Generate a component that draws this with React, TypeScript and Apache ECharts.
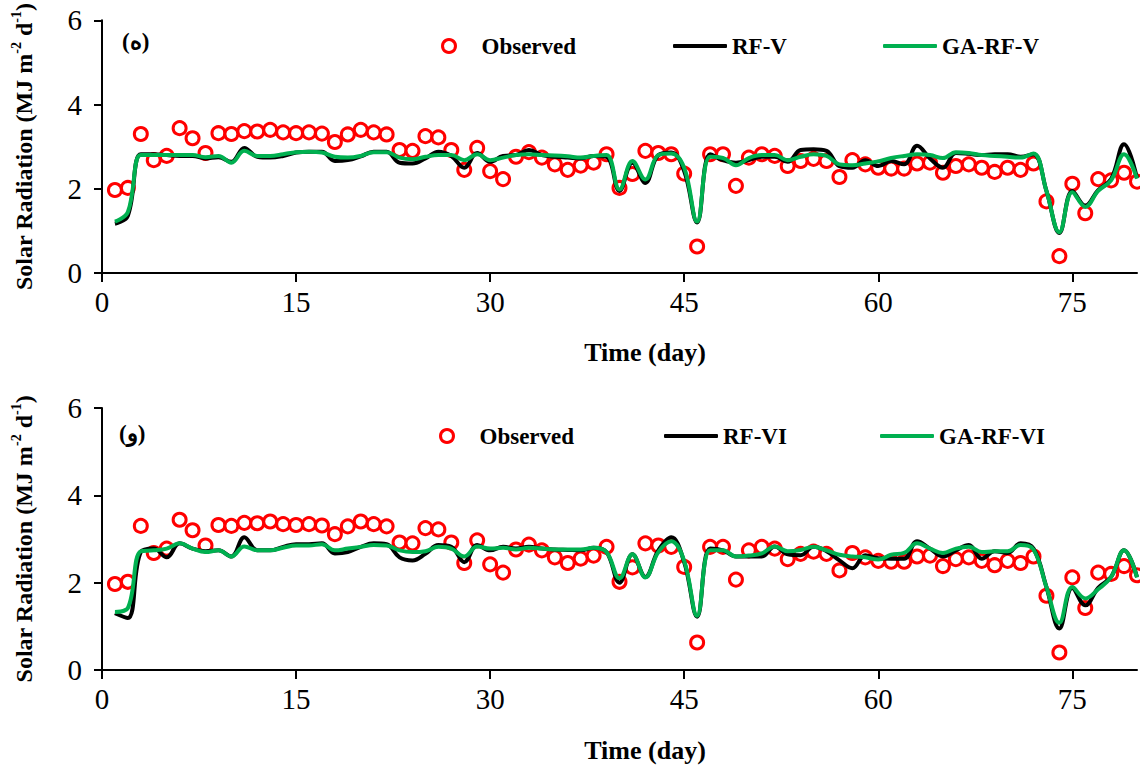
import React, { useEffect, useRef } from "react";
import * as echarts from "echarts";

const days: number[] = Array.from({ length: 80 }, (_, i) => i + 1);
const xTicks = [0, 15, 30, 45, 60, 75];

const observed = [
  1.97, 2.02, 3.3, 2.68, 2.78, 3.44, 3.2, 2.85, 3.32, 3.3,
  3.37, 3.36, 3.4, 3.34, 3.32, 3.34, 3.31, 3.11, 3.29, 3.4,
  3.34, 3.29, 2.92, 2.9, 3.25, 3.22, 2.92, 2.45, 2.97, 2.42,
  2.23, 2.76, 2.87, 2.74, 2.58, 2.45, 2.55, 2.62, 2.82, 2.02,
  2.35, 2.9, 2.85, 2.82, 2.36, 0.63, 2.82, 2.82, 2.07, 2.74,
  2.82, 2.78, 2.54, 2.66, 2.71, 2.66, 2.28, 2.68, 2.58, 2.5,
  2.48, 2.48, 2.6, 2.62, 2.38, 2.54, 2.58, 2.5, 2.4, 2.5,
  2.45, 2.6, 1.7, 0.4, 2.12, 1.42, 2.23, 2.2, 2.38, 2.17,
];

const rfV = [
  1.17, 1.36, 2.82, 2.82, 2.8, 2.78, 2.78, 2.72, 2.75, 2.64,
  2.97, 2.76, 2.74, 2.78, 2.86, 2.88, 2.88, 2.66, 2.68, 2.77,
  2.88, 2.88, 2.62, 2.6, 2.72, 2.88, 2.78, 2.5, 2.85, 2.64,
  2.78, 2.8, 2.92, 2.8, 2.76, 2.74, 2.72, 2.78, 2.76, 1.95,
  2.62, 2.14, 2.8, 2.86, 2.42, 1.2, 2.82, 2.68, 2.62, 2.68,
  2.76, 2.76, 2.64, 2.92, 2.94, 2.9, 2.54, 2.5, 2.68, 2.54,
  2.66, 2.58, 3.02, 2.72, 2.5, 2.85, 2.83, 2.8, 2.82, 2.82,
  2.76, 2.82, 1.95, 0.95, 1.95, 1.6, 1.97, 2.23, 3.06, 2.25,
];

const gaRfV = [
  1.22, 1.45, 2.8, 2.8, 2.8, 2.8, 2.8, 2.75, 2.78, 2.62,
  2.9, 2.78, 2.78, 2.82, 2.87, 2.88, 2.86, 2.76, 2.74, 2.78,
  2.87, 2.87, 2.74, 2.7, 2.76, 2.8, 2.8, 2.68, 2.82, 2.68,
  2.74, 2.8, 2.82, 2.8, 2.79, 2.77, 2.74, 2.78, 2.8, 1.98,
  2.66, 2.22, 2.8, 2.84, 2.5, 1.22, 2.76, 2.73, 2.56, 2.73,
  2.8, 2.8, 2.68, 2.76, 2.82, 2.78, 2.58, 2.56, 2.6, 2.65,
  2.73, 2.78, 2.82, 2.8, 2.73, 2.87, 2.85, 2.8, 2.78, 2.76,
  2.74, 2.84, 1.95, 0.97, 1.92, 1.57, 1.95, 2.2, 2.82, 2.24,
];

const rfVI = [
  1.3, 1.19, 2.7, 2.78, 2.58, 2.9, 2.78, 2.72, 2.74, 2.6,
  3.04, 2.74, 2.74, 2.82, 2.88, 2.88, 2.9, 2.67, 2.7, 2.82,
  2.9, 2.88, 2.58, 2.51, 2.66, 2.86, 2.82, 2.47, 2.86, 2.74,
  2.82, 2.78, 2.82, 2.78, 2.76, 2.75, 2.74, 2.8, 2.7, 2.0,
  2.65, 2.13, 2.74, 3.04, 2.47, 1.22, 2.78, 2.74, 2.6, 2.6,
  2.6, 2.83, 2.65, 2.63, 2.82, 2.72, 2.51, 2.33, 2.63, 2.56,
  2.55, 2.55, 2.95, 2.78, 2.6, 2.74, 2.86, 2.55, 2.72, 2.68,
  2.9, 2.78, 1.9, 0.95, 1.88, 1.48, 1.88, 2.13, 2.74, 2.13,
];

const gaRfVI = [
  1.33, 1.42, 2.72, 2.74, 2.78, 2.9, 2.78, 2.7, 2.74, 2.6,
  2.83, 2.74, 2.74, 2.8, 2.85, 2.85, 2.88, 2.74, 2.78, 2.82,
  2.86, 2.85, 2.74, 2.7, 2.72, 2.82, 2.78, 2.6, 2.83, 2.78,
  2.8, 2.76, 2.8, 2.78, 2.76, 2.76, 2.76, 2.8, 2.7, 2.1,
  2.65, 2.12, 2.7, 2.95, 2.5, 1.24, 2.74, 2.74, 2.6, 2.62,
  2.67, 2.83, 2.72, 2.75, 2.82, 2.74, 2.64, 2.6, 2.58, 2.53,
  2.64, 2.68, 2.9, 2.78, 2.68, 2.78, 2.82, 2.7, 2.72, 2.72,
  2.86, 2.76, 1.9, 1.08, 1.9, 1.64, 1.85, 2.13, 2.74, 2.12,
];

const SERIF = "'Times New Roman', 'Liberation Serif', serif";
const RED = "#FF0000";
const GREEN = "#00B050";

const pairs = (vals: number[]) => days.map((d, i) => [d, vals[i]]);

function xAxisFor(gridIndex: number, gap: number) {
  return {
    type: "value",
    gridIndex,
    min: 0,
    max: 80,
    name: "Time (day)",
    nameLocation: "middle",
    nameGap: gap,
    nameTextStyle: {
      fontFamily: SERIF,
      fontWeight: "bold",
      fontSize: 26,
      color: "#000",
      padding: [0, 0, 0, 51],
    },
    axisLine: { show: true, onZero: false, lineStyle: { color: "#000", width: 2 } },
    axisTick: { show: true, inside: false, length: 9, lineStyle: { color: "#000", width: 2 }, customValues: xTicks },
    axisLabel: { fontFamily: SERIF, fontSize: 29, color: "#000", margin: 14, customValues: xTicks },
    splitLine: { show: false },
  };
}

function yAxisFor(gridIndex: number) {
  return {
    type: "value",
    gridIndex,
    min: 0,
    max: 6,
    interval: 2,
    name: "{a|Solar Radiation (MJ m}{s|-2}{a| d}{s|-1}{a|)}",
    nameLocation: "middle",
    nameGap: 66,
    nameTextStyle: {
      color: "#000",
      rich: {
        a: { fontFamily: SERIF, fontWeight: "bold", fontSize: 24, color: "#000", lineHeight: 27, verticalAlign: "bottom" },
        s: { fontFamily: SERIF, fontWeight: "bold", fontSize: 14, color: "#000", lineHeight: 27, verticalAlign: "top" },
      },
    },
    axisLine: { show: true, lineStyle: { color: "#000", width: 2 } },
    axisTick: { show: true, inside: false, length: 8, lineStyle: { color: "#000", width: 2 } },
    axisLabel: { fontFamily: SERIF, fontSize: 29, color: "#000", margin: 20 },
    splitLine: { show: false },
  };
}

function legendItem(name: string, left: number, top: number, kind: "obs" | "black" | "green") {
  const base: any = {
    data: [name],
    left,
    top,
    orient: "horizontal",
    selectedMode: false,
    padding: 0,
    textStyle: { fontFamily: SERIF, fontWeight: "bold", fontSize: 23, color: "#000", lineHeight: 26 },
  };
  if (kind === "obs") {
    base.icon = "circle";
    base.itemWidth = 13;
    base.itemHeight = 13;
    base.itemStyle = { color: "#fff", borderColor: RED, borderWidth: 3 };
    base.textStyle = { ...base.textStyle, padding: [0, 0, 0, 21] };
  } else {
    base.icon = "roundRect";
    base.itemWidth = 54;
    base.itemHeight = 4;
    base.itemStyle = { color: kind === "black" ? "#000" : GREEN, borderWidth: 0 };
  }
  return base;
}

export default function App() {
  const ref = useRef<HTMLDivElement>(null);

  useEffect(() => {
    if (!ref.current) return;
    const chart = echarts.init(ref.current, null, { renderer: "svg" });

    const scatter = (xi: number, data: number[]) => ({
      name: "Observed",
      type: "scatter",
      xAxisIndex: xi,
      yAxisIndex: xi,
      data: pairs(data),
      symbol: "circle",
      symbolSize: 13,
      itemStyle: { color: "#fff", borderColor: RED, borderWidth: 3, opacity: 1 },
      z: 3,
    });
    const line = (name: string, xi: number, data: number[], color: string, z: number) => ({
      name,
      type: "line",
      xAxisIndex: xi,
      yAxisIndex: xi,
      data: pairs(data),
      smooth: 0.4,
      showSymbol: false,
      symbol: "none",
      lineStyle: { color, width: 4 },
      itemStyle: { color },
      z,
    });

    chart.setOption({
      animation: false,
      backgroundColor: "#fff",
      grid: [
        { left: 102, top: 19, width: 1035, height: 254, containLabel: false },
        { left: 102, top: 408, width: 1035, height: 262, containLabel: false },
      ],
      xAxis: [xAxisFor(0, 66), xAxisFor(1, 67)],
      yAxis: [yAxisFor(0), yAxisFor(1)],
      legend: [
        legendItem("Observed", 441, 33, "obs"),
        legendItem("RF-V", 673, 33, "black"),
        legendItem("GA-RF-V", 883, 33, "green"),
        legendItem("Observed", 439, 423, "obs"),
        legendItem("RF-VI", 664, 423, "black"),
        legendItem("GA-RF-VI", 880, 423, "green"),
      ],
      graphic: [
        { type: "text", left: 122, top: 30, style: { text: "(ه)", fontFamily: SERIF, fontWeight: "bold", fontSize: 23, fill: "#000" } },
        { type: "text", left: 119, top: 422, style: { text: "(و)", fontFamily: SERIF, fontWeight: "bold", fontSize: 23, fill: "#000" } },
      ],
      series: [
        line("RF-V", 0, rfV, "#000", 4),
        line("GA-RF-V", 0, gaRfV, GREEN, 5),
        scatter(0, observed),
        line("RF-VI", 1, rfVI, "#000", 4),
        line("GA-RF-VI", 1, gaRfVI, GREEN, 5),
        scatter(1, observed),
      ],
    });

    return () => chart.dispose();
  }, []);

  return (
    <div
      ref={ref}
      style={{ position: "absolute", left: 0, top: 0, width: 1140, height: 767, background: "#fff" }}
    />
  );
}
